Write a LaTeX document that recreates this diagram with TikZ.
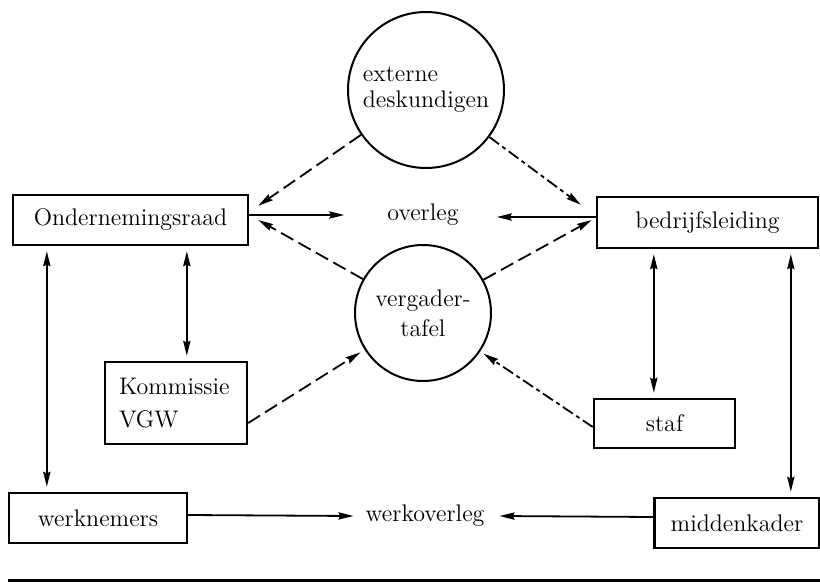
\documentclass[tikz,border=0pt]{standalone}
\usepackage{amsmath}
\usepackage{tikz}
\usetikzlibrary{arrows.meta}

\begin{document}
\begin{tikzpicture}[x=0.5pt, y=-0.5pt, font=\fontsize{12}{13}\selectfont,
    >={Stealth[length=7.5pt, width=3.6pt, inset=0.8pt]},
    box/.style={rectangle, draw, line width=1.2pt, inner sep=0pt},
    bol/.style={circle, draw, line width=1pt, inner sep=0pt},
    streep/.style={dash pattern=on 7pt off 3pt},
    streepstip/.style={dash pattern=on 6pt off 2pt on 2pt off 2pt}]
    \useasboundingbox (0,0) rectangle (820,584);
    \draw[every node/.style={box}]
        (130.5,220) node[minimum width=117.5pt, minimum height=25pt] (or){Ondernemingsraad}
        (707.5,222.5) node[minimum width=110.5pt, minimum height=25.5pt] (bl){bedrijfsleiding}
        (176,403) node[minimum width=71pt, minimum height=41pt, text width=57pt, align=left] (kom){Kommissie\\[3.5pt]VGW}
        (664.5,423.5) node[minimum width=70.5pt, minimum height=24.5pt] (staf){staf}
        (98,518) node[minimum width=89pt, minimum height=25pt] (wn){werknemers}
        (737,523) node[minimum width=82.5pt, minimum height=25pt] (mk){middenkader};
    \draw[every node/.style={bol}]
        (426,90) node[minimum size=78pt, align=left] (ext){externe\\deskundigen}
        (423,313) node[minimum size=68pt, align=center] (verg){vergader-\\[2pt]tafel};
    \path
        (423,215) node (ov){overleg}
        (425,516) node (wo){werkoverleg};
    \begin{scope}[->, line width=0.9pt]
        \draw ([yshift=2.5pt]or.east) to ([xshift=-18pt]ov.west);
        \draw ([yshift=2.75pt]bl.west) to ([xshift=15.5pt,yshift=-1pt]ov.east);
        \draw ([yshift=1.5pt]wn.east) to ([xshift=-2.5pt]wo.west);
        \draw ([yshift=3pt]mk.west) to ([xshift=4pt]wo.east);
    \end{scope}
    \begin{scope}[<->, line width=0.9pt, shorten <=2.5pt, shorten >=2.5pt]
        \draw ([xshift=17.5pt]or.south west) to ([xshift=17.5pt]or.south west |- wn.north);
        \draw ([xshift=87.5pt]or.south west) to ([xshift=87.5pt]or.south west |- kom.north);
        \draw ([xshift=29pt]bl.south west) to ([xshift=29pt]bl.south west |- staf.north);
        \draw ([xshift=97.5pt]bl.south west) to ([xshift=97.5pt]bl.south west |- mk.north);
    \end{scope}
    \begin{scope}[->, line width=0.9pt]
        \draw[streep] (ext) to ([xshift=4.5pt,yshift=-6pt]or.north east);
        \draw[streepstip] (ext) to ([xshift=-7.5pt,yshift=-4.5pt]bl.north west);
        \draw[streep] (verg) to ([xshift=4.5pt]or.east);
        \draw[streep] (verg) to ([xshift=-2pt,yshift=1.25pt]bl.west);
        \draw[streep, shorten >=2.5pt] ([yshift=-10pt]kom.east) to (verg);
        \draw[streepstip, shorten >=2pt] ([yshift=-1.75pt]staf.west) to (verg);
    \end{scope}
    \draw[line width=1.5pt] (8,580) -- (820,580);
\end{tikzpicture}
\end{document}
